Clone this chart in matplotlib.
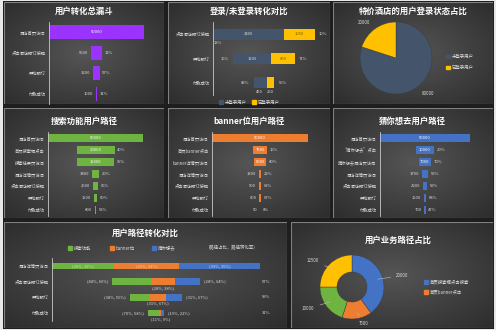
import numpy as np
import matplotlib
matplotlib.use("Agg")
import matplotlib.pyplot as plt
from matplotlib.colors import LinearSegmentedColormap
from matplotlib.patches import Rectangle, Patch

# ---------- fonts ----------
plt.rcParams["font.family"] = ["Noto Sans CJK SC", "DejaVu Sans"]

# ---------- data ----------
total_cats = ["酒店首页访问", "点击酒店预订按钮", "开始预订", "付款成功"]
total_vals = [50000, 5600, 3200, 1000]

login_cats = ["点击酒店预订按钮", "开始预订", "付款成功"]
unlogged_vals = [2400, 1300, 450]
logged_vals = [1050, 800, 250]
unlogged_rates = ["13%", "16%", "85%"]
logged_rates = ["10%", "71%", "55%"]

pie_labels = ["未登录用户", "已登录用户"]
pie_vals = [80000, 20000]

search_cats = ["酒店首页访问", "首页搜索框点击", "搜索结果页访问", "酒店详情页访问",
               "点击酒店预订按钮", "开始预订", "付款成功"]
search_vals = [50000, 20000, 19000, 3800, 2500, 1500, 800]

banner_cats = ["酒店首页访问", "首页banner点击", "banner详情页访问", "酒店详情页访问",
               "点击酒店预订按钮", "开始预订", "付款成功"]
banner_vals = [50000, 7500, 6000, 1300, 900, 600, 50]

guess_cats = ["酒店首页访问", "“猜你想去”点击", "猜你想去酒店页访问", "酒店详情页访问",
              "点击酒店预订按钮", "开始预订", "付款成功"]
guess_vals = [50000, 10000, 7000, 3700, 2200, 1500, 700]

path_cats = ["酒店详情页访问", "点击酒店预订按钮", "开始预订", "付款成功"]
path_names = ["搜索功能", "banner位", "猜你想去"]
path_totals = [100, 42, 25, 8]          # relative bar length per step
share_search = [30, 44, 38, 70]
share_banner = [31, 28, 31, 11]
share_guess = [39, 28, 31, 19]
rate_search = [19, 66, 55, 58]
rate_banner = [31, 38, 67, 9]
rate_guess = [35, 64, 67, 22]
step_rates = ["", "57%", "59%", "31%"]

donut_labels = ["首页搜索框点击搜索", "首页banner点击", "猜你想去点击", "其他"]
donut_vals = [20000, 7500, 10000, 12500]

# ---------- colours ----------
PURPLE = "#9b33ff"
GREEN = "#6fb340"
ORANGE = "#ed7d31"
BLUE = "#4472c4"
NAVY = "#44546a"
GOLD = "#ffc000"
TXT = "#d9d9d9"

W, H = 496, 330
fig = plt.figure(figsize=(W / 100, H / 100), dpi=100)
fig.patch.set_facecolor("#e8e8e8")


def px_axes(x0, y0, x1, y1, z=1):
    """axes from pixel box (top-left origin)"""
    ax = fig.add_axes([x0 / W, 1 - y1 / H, (x1 - x0) / W, (y1 - y0) / H], zorder=z)
    ax.set_facecolor("none")
    return ax


bg_cmap = LinearSegmentedColormap.from_list("bg", ["#555555", "#2d2d2d"])


def panel(x0, y0, x1, y1):
    ax = px_axes(x0, y0, x1, y1, z=-5)
    yy, xx = np.mgrid[-1:1:60j, -1:1:90j]
    rr = np.sqrt(xx ** 2 + yy ** 2) / np.sqrt(2)
    ax.imshow(rr, cmap=bg_cmap, aspect="auto", extent=[0, 1, 0, 1], vmin=0, vmax=1)
    ax.set_axis_off()
    ax.add_patch(Rectangle((0, 0), 1, 1, fill=False, ec="#808080", lw=0.8,
                           transform=ax.transAxes))


def title(x, y, s):
    fig.text(x / W, 1 - y / H, s, ha="center", va="center", color="white",
             fontsize=6, fontweight="bold")


def style_cat_axis(ax, cats):
    ax.set_yticks(np.arange(len(cats)))
    ax.set_yticklabels(cats, fontsize=3.1, color=TXT)
    ax.tick_params(axis="y", length=0, pad=2.5)
    ax.set_xticks([])
    for sp in ["top", "right", "bottom"]:
        ax.spines[sp].set_visible(False)
    ax.spines["left"].set_color("#c8c8c8")
    ax.spines["left"].set_linewidth(0.6)


def funnel(box, cats, vals, color):
    x0, y0, x1, y1 = box
    ax = px_axes(x0, y0, x1, y1)
    n = len(vals)
    vmax = max(vals)
    y = np.arange(n)
    lefts = [(vmax - v) / 2 for v in vals]
    ax.barh(y, vals, left=lefts, height=0.68, color=color, edgecolor="none")
    ax.set_xlim(0, vmax)
    ax.set_ylim(n - 0.5, -0.5)
    style_cat_axis(ax, cats)
    for i, v in enumerate(vals):
        if v / vmax > 0.115:
            ax.text(vmax / 2, i, f"{v}", ha="center", va="center", color="white", fontsize=3)
        else:
            ax.text(lefts[i] - vmax * 0.03, i, f"{v}", ha="right", va="center", color=TXT, fontsize=3)
        if i > 0:
            ax.text(lefts[i] + v + vmax * 0.03, i, f"{v / vals[i - 1]:.0%}",
                    ha="left", va="center", color=TXT, fontsize=3)
    return ax


# ---------- background ----------
fig.add_artist(Rectangle((3 / W, 1 / H), 491 / W, 328 / H, transform=fig.transFigure,
                         fc="#1e1e1e", ec="none", zorder=-10))
for b in [(4, 2, 164, 104), (168, 2, 330, 104), (333, 2, 493, 104),
          (4, 108, 164, 218), (168, 108, 330, 218), (333, 108, 493, 218),
          (4, 222, 287, 328), (291, 222, 493, 328)]:
    panel(*b)

# ---------- 1. overall funnel ----------
title(84, 11, "用户转化总漏斗")
funnel((49, 22, 144, 104), total_cats, total_vals, PURPLE)

# ---------- 2. login vs not logged in ----------
title(249, 11, "登录/未登录转化对比")
ax = px_axes(213, 22, 315, 95)
tot = np.array(unlogged_vals) + np.array(logged_vals)
tmax = tot.max()
y = np.arange(len(login_cats))
left = (tmax - tot) / 2
ax.barh(y, unlogged_vals, left=left, height=0.45, color=NAVY)
ax.barh(y, logged_vals, left=left + np.array(unlogged_vals), height=0.45, color=GOLD)
ax.set_xlim(0, tmax)
ax.set_ylim(len(y) - 0.5, -0.5)
style_cat_axis(ax, login_cats)
for i in range(len(y)):
    u, g = unlogged_vals[i], logged_vals[i]
    if i < 2:
        ax.text(left[i] + u / 2, i, f"{u}", ha="center", va="center", color=TXT, fontsize=3)
        ax.text(left[i] + u + g / 2, i, f"{g}", ha="center", va="center", color="#7f6000", fontsize=3)
    else:
        ax.text(left[i] + u * 0.4, i + 0.3, f"{u}", ha="center", va="top", color=TXT, fontsize=3)
        ax.text(left[i] + u + g / 2, i + 0.3, f"{g}", ha="center", va="top", color=TXT, fontsize=3)
    if left[i] < tmax * 0.05:
        ax.text(left[i] + tmax * 0.05, i + 0.3, unlogged_rates[i], ha="center", va="top",
                color=TXT, fontsize=3)
    else:
        ax.text(left[i] - tmax * 0.04, i, unlogged_rates[i], ha="right", va="center",
                color=TXT, fontsize=3)
    ax.text(tot[i] + left[i] + tmax * 0.04, i, logged_rates[i], ha="left", va="center",
            color=TXT, fontsize=3)
fig.legend(handles=[Patch(color=NAVY), Patch(color=GOLD)], labels=["未登录用户", "已登录用户"],
           loc="center", bbox_to_anchor=(249 / W, 1 - 102 / H), ncol=2, frameon=False,
           fontsize=3.2, labelcolor=TXT, handlelength=0.9, handleheight=0.9,
           columnspacing=1.2, handletextpad=0.4)

# ---------- 3. pie ----------
title(413, 11, "特价酒店的用户登录状态占比")
ax = px_axes(351, 13, 441, 103)
start = 90 + 360 * pie_vals[1] / sum(pie_vals)
ax.pie(pie_vals, colors=[NAVY, GOLD], startangle=start, labels=[str(v) for v in pie_vals],
       labeldistance=1.22, textprops=dict(color=TXT, fontsize=3.2),
       wedgeprops=dict(edgecolor="#3a3a3a", linewidth=0.3))
ax.set_xlim(-1.25, 1.25)
ax.set_ylim(-1.25, 1.25)
ax.set_aspect("equal")
fig.legend(handles=[Patch(color=NAVY), Patch(color=GOLD)], labels=pie_labels,
           loc="center left", bbox_to_anchor=(442 / W, 1 - 62 / H), frameon=False,
           fontsize=3.2, labelcolor=TXT, handlelength=0.9, handleheight=0.9,
           labelspacing=1.3, handletextpad=0.4)

# ---------- 4-6. path funnels ----------
title(84, 121, "搜索功能用户路径")
funnel((48, 132, 143, 216), search_cats, search_vals, GREEN)
title(249, 121, "banner位用户路径")
funnel((212, 132, 308, 216), banner_cats, banner_vals, ORANGE)
title(412, 121, "猜你想去用户路径")
funnel((380, 132, 470, 216), guess_cats, guess_vals, BLUE)

# ---------- 7. path comparison ----------
title(145, 233, "用户路径转化对比")
ax = px_axes(52, 258, 260, 321)
y = np.arange(len(path_cats))
tots = np.array(path_totals, dtype=float)
w_s = tots * np.array(share_search) / 100
w_b = tots * np.array(share_banner) / 100
w_g = tots * np.array(share_guess) / 100
lft = (100 - tots) / 2
ax.barh(y, w_s, left=lft, height=0.4, color=GREEN)
ax.barh(y, w_b, left=lft + w_s, height=0.4, color=ORANGE)
ax.barh(y, w_g, left=lft + w_s + w_b, height=0.4, color=BLUE)
ax.set_xlim(0, 100)
ax.set_ylim(len(y) - 0.5, -0.5)
style_cat_axis(ax, path_cats)
for i in range(len(y)):
    ls = f"({share_search[i]}%, {rate_search[i]}%)"
    lb = f"({share_banner[i]}%, {rate_banner[i]}%)"
    lg = f"({share_guess[i]}%, {rate_guess[i]}%)"
    if i == 0:
        ax.text(lft[i] + w_s[i] / 2, i, ls, ha="center", va="center", color=TXT, fontsize=3)
        ax.text(lft[i] + w_s[i] + w_b[i] / 2, i, lb, ha="center", va="center", color=TXT, fontsize=3)
        ax.text(lft[i] + w_s[i] + w_b[i] + w_g[i] / 2, i, lg, ha="center", va="center",
                color=TXT, fontsize=3)
    else:
        ax.text(lft[i] - 2, i, ls, ha="right", va="center", color=TXT, fontsize=3)
        ax.text(lft[i] + w_s[i] + w_b[i] / 2, i + 0.28, lb, ha="center", va="top",
                color=TXT, fontsize=3)
        ax.text(lft[i] + tots[i] + 2, i, lg, ha="left", va="center", color=TXT, fontsize=3)
    ax.text(103, i, step_rates[i], ha="center", va="center", color=TXT, fontsize=3)
fig.legend(handles=[Patch(color=GREEN), Patch(color=ORANGE), Patch(color=BLUE)], labels=path_names,
           loc="center", bbox_to_anchor=(122 / W, 1 - 248 / H), ncol=3, frameon=False,
           fontsize=3.2, labelcolor=TXT, handlelength=0.9, handleheight=0.9,
           columnspacing=4, handletextpad=0.4)
fig.text(232 / W, 1 - 248 / H, "（路径占比，路径转化率）", ha="center", va="center",
         color=TXT, fontsize=3.2)

# ---------- 8. donut ----------
title(398, 240, "用户业务路径占比")
ax = px_axes(312, 247, 392, 327)
d_colors = [BLUE, ORANGE, GREEN, GOLD]
wedges, _ = ax.pie(donut_vals, colors=d_colors, startangle=90, counterclock=False,
                   wedgeprops=dict(width=0.53, edgecolor="#3a3a3a", linewidth=0.3))
for wd, v in zip(wedges, donut_vals):
    ang = np.deg2rad((wd.theta1 + wd.theta2) / 2)
    ax.annotate(str(v), xy=(0.75 * np.cos(ang), 0.75 * np.sin(ang)),
                xytext=(1.45 * np.cos(ang), 1.15 * np.sin(ang)),
                ha="left" if np.cos(ang) > 0 else "right", va="center",
                color=TXT, fontsize=3.2,
                arrowprops=dict(arrowstyle="-", color="#bfbfbf", lw=0.4))
ax.set_xlim(-1.25, 1.25)
ax.set_ylim(-1.25, 1.25)
ax.set_aspect("equal")
fig.legend(handles=[Patch(color=BLUE), Patch(color=ORANGE)], labels=donut_labels[:2],
           loc="center left", bbox_to_anchor=(420 / W, 1 - 287 / H), frameon=False,
           fontsize=3.2, labelcolor=TXT, handlelength=0.9, handleheight=0.9,
           labelspacing=1.0, handletextpad=0.4)

fig.savefig("out.png", dpi=100)
plt.close(fig)
